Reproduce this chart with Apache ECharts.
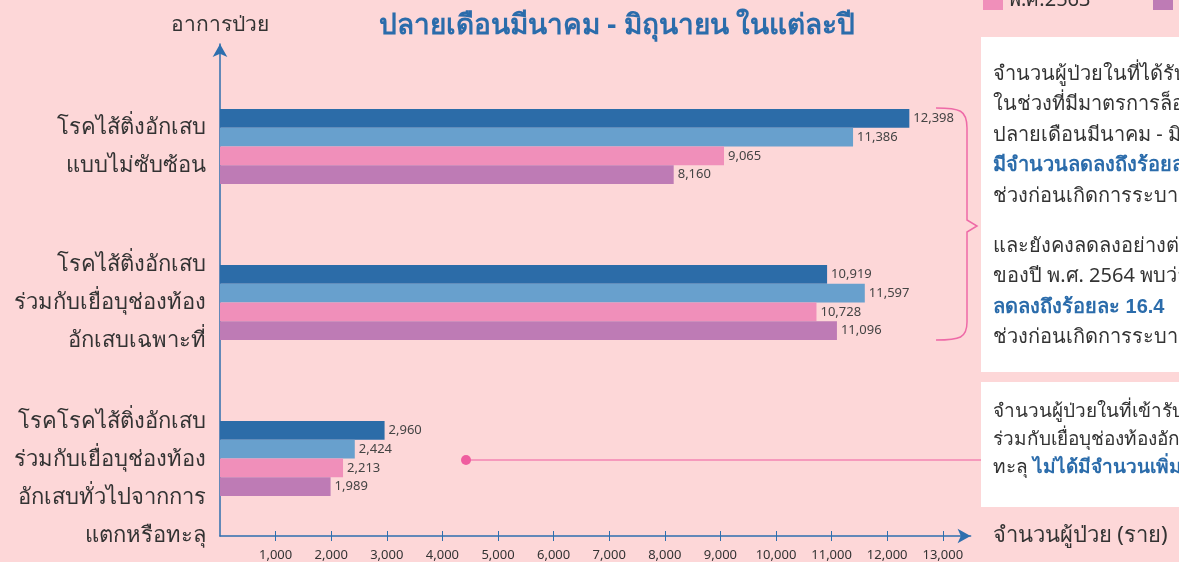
<!DOCTYPE html>
<html>
<head>
<meta charset="utf-8">
<style>
    html, body {margin:0;padding:0;background:#fdd7d8;}
    #chart {width:1179px;height:562px;}
</style>
<script src="https://cdn.jsdelivr.net/npm/echarts@6/dist/echarts.min.js"></script>
</head>
<body>
<div id="chart"></div>
<script>
    // ข้อมูลจำนวนผู้ป่วย (ราย)
    var categories = [
        'โรคไส้ติ่งอักเสบ\nแบบไม่ซับซ้อน',
        'โรคไส้ติ่งอักเสบ\nร่วมกับเยื่อบุช่องท้อง\nอักเสบเฉพาะที่',
        'โรคโรคไส้ติ่งอักเสบ\nร่วมกับเยื่อบุช่องท้อง\nอักเสบทั่วไปจากการ\nแตกหรือทะลุ'
    ];
    var years = ['พ.ศ.2561', 'พ.ศ.2562', 'พ.ศ.2563', 'พ.ศ.2564'];
    var y2561 = [12398, 10919, 2960];
    var y2562 = [11386, 11597, 2424];
    var y2563 = [9065, 10728, 2213];
    var y2564 = [8160, 11096, 1989];
    var xTicks = [1000, 2000, 3000, 4000, 5000, 6000, 7000, 8000, 9000, 10000, 11000, 12000, 13000];

    var colors = ['#2c6ca8', '#68a0cd', '#f08fba', '#be7bb5'];
    var axisColor = '#2e6fae';
    var font = '"Noto Sans", sans-serif';
    var xMax = 13500;

    function fmt(v) { return v.toLocaleString('en-US'); }

    var chart = echarts.init(document.getElementById('chart'));

    var seriesData = [y2561, y2562, y2563, y2564];
    var series = seriesData.map(function (d, i) {
        return {
            name: years[i],
            type: 'bar',
            xAxisIndex: 2,
            yAxisIndex: 1,
            data: d,
            barWidth: 18.7,
            barGap: '0%',
            itemStyle: {color: colors[i]},
            label: {
                show: true,
                position: 'right',
                distance: 4,
                fontSize: 13,
                color: '#444',
                fontFamily: font,
                formatter: function (p) { return fmt(p.value); }
            }
        };
    });

    var braceStyle = {fill: 'none', stroke: '#ee6aa7', lineWidth: 1.5};
    var boldBlue = {fontSize: 20, fontWeight: 'bold', fill: '#2b6cab', lineHeight: 30.5};

    var option = {
        backgroundColor: '#fdd7d8',
        textStyle: {fontFamily: font},
        title: {
            text: 'ปลายเดือนมีนาคม - มิถุนายน ในแต่ละปี',
            left: 374,
            top: 7,
            textStyle: {fontSize: 28, fontWeight: 'bold', color: '#2b6cab', fontFamily: font}
        },
        legend: {
            data: years,
            left: 983,
            top: -45,
            width: 340,
            padding: 0,
            itemWidth: 20,
            itemHeight: 20,
            itemGap: 15,
            icon: 'rect',
            textStyle: {fontSize: 20, color: '#333', width: 130, lineHeight: 20}
        },
        grid: [
            // แกนตกแต่ง (เส้นแกน ลูกศร)
            {left: 220, right: 208.4, top: 44, bottom: 18},
            // พื้นที่แท่ง
            {left: 220, right: 208.4, top: 68.5, bottom: 25.5}
        ],
        xAxis: [
            {
                gridIndex: 0, type: 'value', min: 0, max: xMax, position: 'bottom',
                name: 'จำนวนผู้ป่วย (ราย)', nameLocation: 'end', nameGap: 22,
                nameTextStyle: {fontSize: 22, color: '#333', padding: [12, 0, 0, 0]},
                axisLine: {show: true, lineStyle: {color: axisColor, width: 1.5}, symbol: ['none', 'arrow'], symbolSize: [11, 13]},
                axisTick: {show: true, length: 5, customValues: xTicks, lineStyle: {color: axisColor}},
                axisLabel: {show: true, customValues: xTicks, margin: 13, fontSize: 13, color: '#333', formatter: fmt},
                splitLine: {show: false}
            },
            {
                gridIndex: 0, type: 'value', min: 0, max: xMax, position: 'bottom',
                axisLine: {show: false},
                axisTick: {show: true, inside: true, length: 5, customValues: xTicks, lineStyle: {color: axisColor}},
                axisLabel: {show: false},
                splitLine: {show: false}
            },
            {
                gridIndex: 1, type: 'value', min: 0, max: xMax, show: false
            }
        ],
        yAxis: [
            {
                gridIndex: 0, type: 'value', min: 0, max: 1,
                name: 'อาการป่วย', nameLocation: 'end', nameGap: 8,
                nameTextStyle: {fontSize: 21, color: '#333', align: 'center'},
                axisLine: {show: true, lineStyle: {color: axisColor, width: 1.5}, symbol: ['none', 'arrow'], symbolSize: [11, 13]},
                axisTick: {show: false}, axisLabel: {show: false}, splitLine: {show: false}
            },
            {
                gridIndex: 1, type: 'category', inverse: true,
                data: categories,
                axisLine: {show: false}, axisTick: {show: false},
                axisLabel: {
                    fontSize: 22, lineHeight: 38, color: '#333', margin: 14, align: 'right',
                    // ป้ายกลุ่มสุดท้ายเลื่อนลงเล็กน้อย
                    formatter: function (v, i) { return i === 2 ? '{s| }\n' + v : v; },
                    rich: {s: {fontSize: 4, lineHeight: 40}}
                }
            }
        ],
        graphic: [
            // วงเล็บปีกกา
            {type: 'bezierCurve', silent: true, shape: {x1: 936, y1: 108, cpx1: 960, cpy1: 108, cpx2: 967, cpy2: 110, x2: 967, y2: 128}, style: braceStyle},
            {type: 'polyline', silent: true, shape: {points: [[967, 128], [967, 220], [977, 226], [967, 232], [967, 322]]}, style: braceStyle},
            {type: 'bezierCurve', silent: true, shape: {x1: 967, y1: 322, cpx1: 967, cpy1: 338, cpx2: 960, cpy2: 340, x2: 936, y2: 340}, style: braceStyle},
            {type: 'line', silent: true, shape: {x1: 466, y1: 460, x2: 982, y2: 460}, style: {stroke: '#ef5d9f', lineWidth: 1.2}},
            {type: 'circle', silent: true, shape: {cx: 466, cy: 460, r: 5}, style: {fill: '#ef5d9f'}},
            // กล่องข้อความ
            {type: 'rect', silent: true, shape: {x: 981, y: 37, width: 260, height: 335}, style: {fill: '#ffffff'}},
            {type: 'rect', silent: true, shape: {x: 981, y: 382, width: 260, height: 125}, style: {fill: '#ffffff'}},
            {
                type: 'text', left: 993, top: 59,
                style: {
                    text: 'จำนวนผู้ป่วยในที่ได้รับการผ่าตัดไส้ติ่ง\nในช่วงที่มีมาตรการล็อกดาวน์\nปลายเดือนมีนาคม - มิถุนายน พ.ศ. 2563\n{b|มีจำนวนลดลงถึงร้อยละ 21.0}\nช่วงก่อนเกิดการระบาด',
                    font: '20px ' + font, fill: '#333', lineHeight: 30.5,
                    rich: {b: boldBlue}
                }
            },
            {
                type: 'text', left: 993, top: 231,
                style: {
                    text: 'และยังคงลดลงอย่างต่อเนื่อง\nของปี พ.ศ. 2564 พบว่า\n{b|ลดลงถึงร้อยละ 16.4}\nช่วงก่อนเกิดการระบาด',
                    font: '20px ' + font, fill: '#333', lineHeight: 30.5,
                    rich: {b: boldBlue}
                }
            },
            {
                type: 'text', left: 993, top: 398,
                style: {
                    text: 'จำนวนผู้ป่วยในที่เข้ารับการรักษาโรคไส้ติ่งอักเสบ\nร่วมกับเยื่อบุช่องท้องอักเสบทั่วไปจากการแตกหรือ\nทะลุ {b|ไม่ได้มีจำนวนเพิ่มขึ้น}',
                    font: '19px ' + font, fill: '#333', lineHeight: 28,
                    rich: {b: {fontSize: 19, fontWeight: 'bold', fill: '#2b6cab', lineHeight: 28}}
                }
            }
        ],
        series: series
    };

    chart.setOption(option);
    window.onresize = function () {
        chart.resize();
    };
</script>
</body>
</html>
